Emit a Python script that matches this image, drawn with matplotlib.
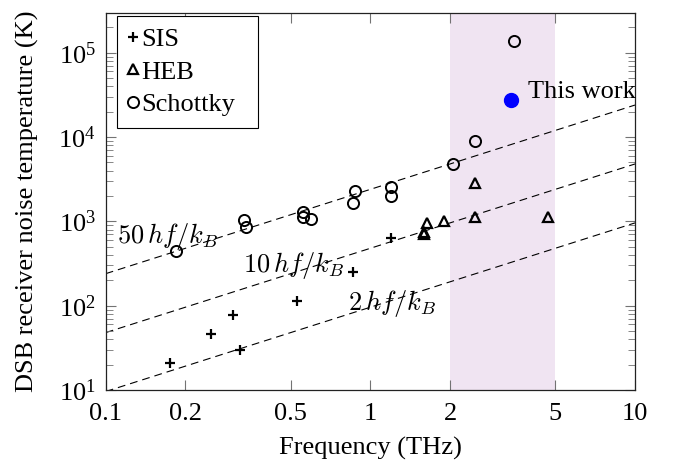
import numpy as np
import matplotlib.pyplot as plt
from matplotlib.ticker import LogLocator, FixedLocator, FixedFormatter, NullLocator

# Data (frequency in THz, DSB noise temperature in K)
sis_f = [0.175, 0.251, 0.302, 0.321, 0.529, 0.857, 1.2]
sis_t = [20.7, 45.8, 77.6, 29.8, 114.6, 249, 641]

heb_f = [1.6, 1.6, 1.64, 1.9, 2.49, 2.49, 4.7]
heb_t = [703, 755, 948, 1011, 1137, 2830, 1137]

schottky_f = [0.184, 0.332, 0.340, 0.555, 0.555, 0.597, 0.875, 0.862, 1.2, 1.2, 2.06, 2.49, 3.49]
schottky_t = [446, 1040, 865, 1282, 1137, 1067, 2294, 1640, 2580, 2018, 4797, 8990, 139300]

this_f = [3.40]
this_t = [27540]

band = [2, 5]
line_factors = [50, 10, 2]
h_over_kb = 47.99  # K per THz
f_line = np.array([0.1, 10])

xticks = [0.1, 0.2, 0.5, 1, 2, 5, 10]
xticklabels = ["0.1", "0.2", "0.5", "1", "2", "5", "10"]

# Style
plt.rcParams["font.family"] = ["Liberation Serif", "DejaVu Serif"]
plt.rcParams["mathtext.fontset"] = "stix"
plt.rcParams["font.size"] = 19

fig, ax = plt.subplots(figsize=(6.75, 4.62), dpi=100)
fig.subplots_adjust(left=0.1566, right=0.9407, top=0.9712, bottom=0.1558)

ax.set_xscale("log")
ax.set_yscale("log")
ax.set_xlim(0.1, 10)
ax.set_ylim(10, 2.94e5)

ax.axvspan(band[0], band[1], color="#f0e4f2", lw=0, zorder=0)

for n in line_factors:
    ax.plot(f_line, n * h_over_kb * f_line, color="black", lw=0.8,
            dashes=(7, 4.5), zorder=1)

ax.plot(sis_f, sis_t, "+", color="black", ms=7.5, mew=1.6, ls="none", label="SIS", zorder=3)
ax.plot(heb_f, heb_t, "^", mfc="none", mec="black", ms=7, mew=1.6, ls="none", label="HEB", zorder=3)
ax.plot(schottky_f, schottky_t, "o", mfc="none", mec="black", ms=8, mew=1.4, ls="none",
        label="Schottky", zorder=3)
ax.plot(this_f, this_t, "o", color="blue", ms=10, ls="none", zorder=4)

ax.text(3.95, 28840, "This work", va="baseline", ha="left")

ax.text(0.110, 558, r"$50\,hf/k_B$", va="baseline", ha="left", math_fontfamily="cm", zorder=2)
ax.text(0.331, 253, r"$10\,hf/k_B$", va="baseline", ha="left", math_fontfamily="cm", zorder=2)
ax.text(0.825, 89, r"$2\,hf/k_B$", va="baseline", ha="left", math_fontfamily="cm", zorder=2)

# Axes and ticks
ax.xaxis.set_major_locator(FixedLocator(xticks))
ax.xaxis.set_major_formatter(FixedFormatter(xticklabels))
ax.xaxis.set_minor_locator(NullLocator())
ax.yaxis.set_major_locator(LogLocator(base=10, numticks=10))
ax.yaxis.set_minor_locator(LogLocator(base=10, subs=np.arange(2, 10), numticks=20))

ax.tick_params(which="both", direction="in", top=True, right=True, color="0.45")
ax.tick_params(which="major", length=7.5, width=0.8)
ax.tick_params(which="minor", length=5, width=0.6)
ax.tick_params(axis="x", which="major", pad=9)
ax.tick_params(axis="y", which="major", pad=7)
for s in ax.spines.values():
    s.set_linewidth(0.9)
    s.set_color("#222222")

ax.set_xlabel("Frequency (THz)", labelpad=9)
ax.set_ylabel("DSB receiver noise temperature (K)", labelpad=14)

leg = ax.legend(loc="upper left", bbox_to_anchor=(0.0219, 0.7035, 0.2653, 0.2893),
                mode="expand", borderaxespad=0,
                fancybox=False, framealpha=1, edgecolor="black", handlelength=0.3,
                handletextpad=0.16, labelspacing=0.34, borderpad=0.44, numpoints=1)
leg.get_frame().set_linewidth(0.8)

plt.savefig("out.png", dpi=100)
